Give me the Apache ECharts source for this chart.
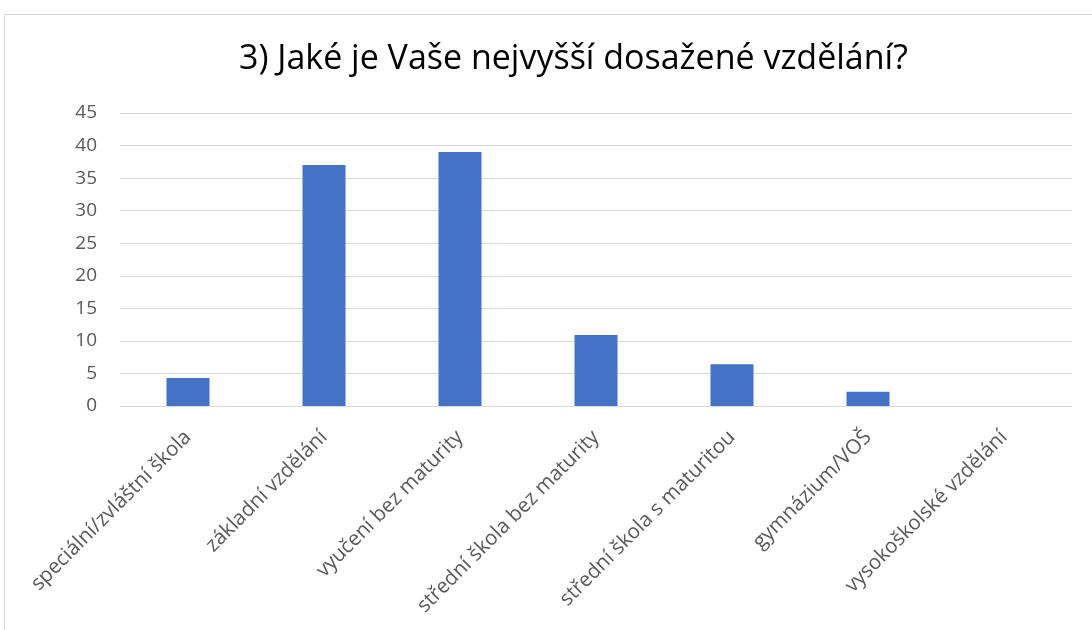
<!DOCTYPE html>
<html><head><meta charset="utf-8">
<script src="https://cdn.jsdelivr.net/npm/echarts@6/dist/echarts.min.js"></script>
<style>html,body{margin:0;padding:0;background:#fff}#c{width:1092px;height:630px}</style>
</head><body><div id="c"></div>
<script>
const title = '3) Jaké je Vaše nejvyšší dosažené vzdělání?';
const categories = ['speciální/zvláštní škola','základní vzdělání','vyučení bez maturity','střední škola bez maturity','střední škola s maturitou','gymnázium/VOŠ','vysokoškolské vzdělání'];
const values = [4.3, 37.0, 39.0, 10.9, 6.4, 2.2, 0];
const yTicks = {min: 0, max: 45, interval: 5};

const chart = echarts.init(document.getElementById('c'), null, {renderer: 'canvas'});
chart.setOption({
  animation: false,
  backgroundColor: '#fff',
  graphic: [{type: 'rect', shape: {x: 4.5, y: 14.5, width: 1200, height: 800}, style: {fill: 'none', stroke: '#d9d9d9', lineWidth: 1}, silent: true, z: -1}],
  title: {text: title, left: 234, top: 37, textStyle: {fontFamily: 'Open Sans', fontSize: 34, fontWeight: 'normal', color: '#000'}},
  grid: {left: 120, right: 20, top: 113, bottom: 224, containLabel: false},
  xAxis: {type: 'category', data: categories,
    axisLine: {show: true, lineStyle: {color: '#d9d9d9', width: 1}},
    axisTick: {show: false},
    axisLabel: {rotate: 45, interval: 0, margin: 28, color: '#595959', fontFamily: 'Open Sans', fontSize: 20.5}},
  yAxis: {type: 'value', min: yTicks.min, max: yTicks.max, interval: yTicks.interval,
    axisLine: {show: false}, axisTick: {show: false},
    splitLine: {lineStyle: {color: '#d9d9d9', width: 1}},
    axisLabel: {color: '#595959', fontFamily: 'Open Sans', fontSize: 19, margin: 23}},
  series: [{type: 'bar', data: values, barWidth: 43, itemStyle: {color: '#4472c4'}}]
});
</script></body></html>
